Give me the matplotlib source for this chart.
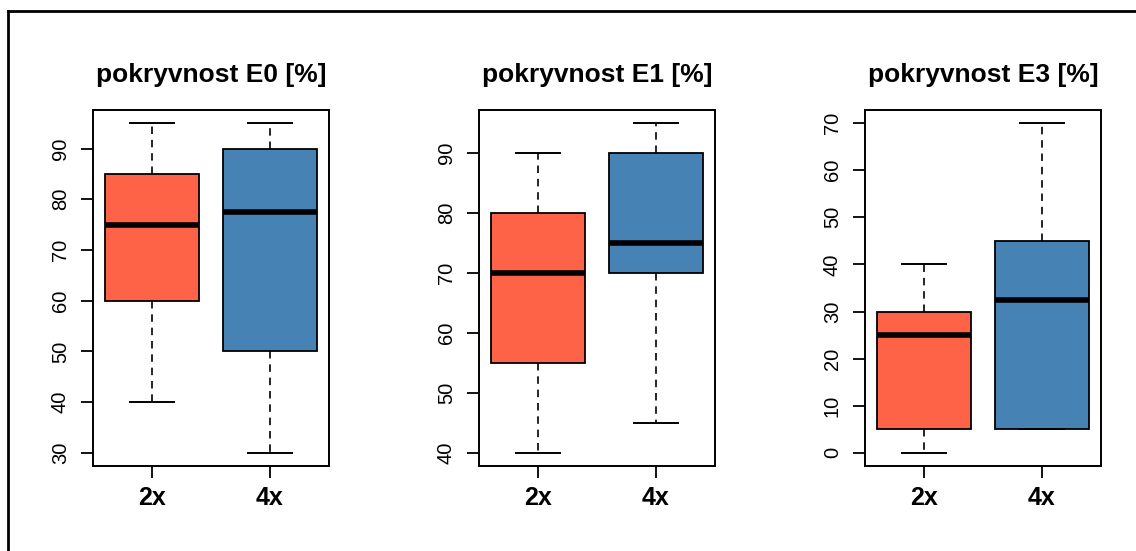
import numpy as np
import matplotlib
matplotlib.use("Agg")
import matplotlib.pyplot as plt
from matplotlib.lines import Line2D

plt.rcParams['font.family'] = ['Liberation Sans', 'DejaVu Sans']

# five-number summaries per panel: (whislo, q1, med, q3, whishi)
groups = ["2x", "4x"]
titles = ["pokryvnost E0 [%]", "pokryvnost E1 [%]", "pokryvnost E3 [%]"]

e0_2x = [40, 60, 75, 85, 95]
e0_4x = [30, 50, 77.5, 90, 95]
e1_2x = [40, 55, 70, 80, 90]
e1_4x = [45, 70, 75, 90, 95]
e3_2x = [0, 5, 25, 30, 40]
e3_4x = [5, 5, 32.5, 45, 70]

yticks = [
    [30, 40, 50, 60, 70, 80, 90],
    [40, 50, 60, 70, 80, 90],
    [0, 10, 20, 30, 40, 50, 60, 70],
]

colors = ["#FF6347", "#4682B4"]  # tomato, steelblue

W, H = 1136, 551
fig = plt.figure(figsize=(W / 100, H / 100), dpi=100)

lefts = [93, 479, 865]
ax_w = 236
ax_top, ax_bot = 110, 466


def stats(v, label):
    return dict(whislo=v[0], q1=v[1], med=v[2], q3=v[3], whishi=v[4],
                label=label, fliers=[])


panels = [(e0_2x, e0_4x), (e1_2x, e1_4x), (e3_2x, e3_4x)]

for i, (a, b) in enumerate(panels):
    ax = fig.add_axes([lefts[i] / W, 1 - ax_bot / H, ax_w / W, (ax_bot - ax_top) / H])
    bx = ax.bxp([stats(a, groups[0]), stats(b, groups[1])],
                positions=[1, 2], widths=0.8, capwidths=0.38,
                patch_artist=True, showfliers=False,
                boxprops=dict(linewidth=1.3, edgecolor="black"),
                whiskerprops=dict(linewidth=1.2, linestyle=(0, (4.5, 3.5)), color="black"),
                capprops=dict(linewidth=1.4, color="black"),
                medianprops=dict(linewidth=4, color="black", solid_capstyle="butt"))
    for patch, c in zip(bx["boxes"], colors):
        patch.set_facecolor(c)

    lo = min(a[0], b[0])
    hi = max(a[4], b[4])
    pad = (hi - lo) * 0.04
    ax.set_ylim(lo - pad, hi + pad)
    ax.set_xlim(0.5, 2.5)
    ax.set_yticks(yticks[i])
    ax.set_yticklabels([str(t) for t in yticks[i]], rotation=90, va="center", fontsize=14.5)
    ax.set_xticks([1, 2])
    ax.set_xticklabels(groups, fontsize=18, fontweight="bold")
    ax.tick_params(axis="both", direction="out", length=8.6, width=1.3)
    ax.tick_params(axis="y", pad=8)
    ax.tick_params(axis="x", pad=6)
    for s in ax.spines.values():
        s.set_linewidth(1.4)
    ax.set_title(titles[i], fontsize=19, fontweight="bold", pad=20)

# outer frame (left and top edges)
fig.add_artist(Line2D([8 / W, 8 / W], [0, 1 - 11 / H], color="black", linewidth=2,
                      transform=fig.transFigure))
fig.add_artist(Line2D([8 / W, 1], [1 - 11 / H, 1 - 11 / H], color="black", linewidth=2,
                      transform=fig.transFigure))

fig.savefig("out.png", dpi=100)
